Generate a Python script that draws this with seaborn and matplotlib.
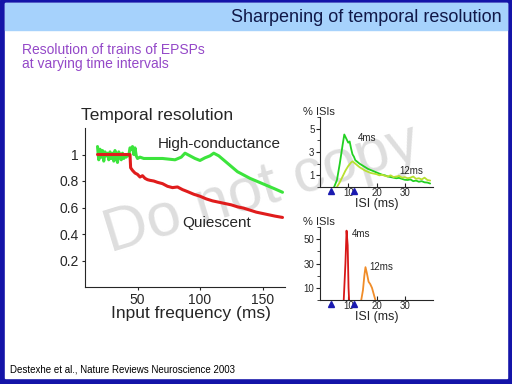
# recreate slide: Sharpening of temporal resolution

# import libraries
import pandas as pd
import seaborn as sns
import matplotlib.pyplot as plt
from matplotlib.patches import Rectangle
from matplotlib.ticker import MultipleLocator

# main panel: temporal resolution vs input frequency
hc_x = [18, 19, 20, 21, 22, 23, 24, 25, 26, 27, 28, 29, 30, 31, 32, 33, 34, 35, 36, 37,
        38, 39, 40, 41, 42, 43, 44, 45, 46, 47, 48, 49, 50, 52, 55, 60, 65, 70, 75, 80,
        85, 88, 92, 96, 100, 104, 108, 111, 115, 120, 125, 130, 135, 140, 145, 150, 155, 160, 166]
hc_y = [1.06, 0.96, 1.04, 0.98, 1.03, 0.95, 1.02, 0.99, 1.01, 0.96, 1.02, 0.97, 1.01, 0.95, 1.03, 0.98,
        0.94, 1.02, 0.99, 0.96, 1.01, 0.97, 1.00, 0.98, 1.00, 0.99, 1.05, 1.04, 1.06, 1.00, 1.05, 0.99,
        0.97, 0.98, 0.97, 0.97, 0.97, 0.97, 0.965, 0.96, 0.98, 1.01, 0.99, 0.97, 0.955, 0.975, 0.99, 1.01,
        0.99, 0.95, 0.91, 0.87, 0.845, 0.82, 0.80, 0.78, 0.76, 0.74, 0.715]
q_x = [18, 20, 25, 30, 35, 40, 44, 44.5, 46, 48, 50, 52, 54, 56, 58, 60, 63, 66, 70, 74,
       78, 82, 86, 90, 95, 100, 105, 110, 115, 120, 125, 130, 135, 140, 145, 150, 155, 160, 166]
q_y = [1.0, 1.0, 1.0, 1.0, 1.0, 1.0, 1.0, 0.90, 0.88, 0.86, 0.85, 0.83, 0.84, 0.82, 0.81, 0.805,
       0.80, 0.79, 0.78, 0.76, 0.75, 0.755, 0.735, 0.72, 0.70, 0.685, 0.665, 0.65, 0.64, 0.63,
       0.62, 0.605, 0.595, 0.58, 0.565, 0.555, 0.545, 0.535, 0.525]

# top histogram (high-conductance), ISI in ms, % ISIs
g4_x = [5, 6, 7, 8, 8.6, 9.2, 10, 10.5, 11, 11.5, 12, 12.5, 13, 14, 15, 16, 17, 18, 19, 20,
        21, 22, 23, 24, 25, 26, 27, 28, 29, 30, 31, 32, 33, 34, 35, 36, 37, 38, 39]
g4_y = [0, 0.6, 2.0, 3.6, 4.5, 4.2, 3.8, 3.9, 3.3, 2.8, 2.6, 2.3, 2.2, 2.0, 1.85, 1.7, 1.55, 1.45,
        1.35, 1.25, 1.15, 1.05, 1.0, 0.9, 0.85, 0.8, 0.75, 0.78, 0.7, 0.62, 0.6, 0.65, 0.5, 0.55,
        0.45, 0.5, 0.4, 0.38, 0.3]
y12_x = [6, 7, 8, 9, 10, 11, 11.5, 12, 13, 14, 15, 16, 17, 18, 19, 20, 21, 22, 23, 24, 25,
         26, 27, 28, 29, 30, 31, 32, 33, 34, 35, 36, 37, 38, 39]
y12_y = [0, 0.4, 0.9, 1.4, 1.8, 2.1, 2.2, 2.1, 1.9, 1.7, 1.55, 1.4, 1.3, 1.2, 1.15, 1.1, 1.0,
         1.05, 0.95, 0.9, 1.0, 0.85, 0.9, 0.95, 0.8, 0.85, 0.75, 0.8, 0.9, 0.7, 0.75, 0.65, 0.8,
         0.6, 0.55]

# bottom histogram (quiescent)
r4_x = [8.4, 9.0, 9.4, 9.8, 10.1, 10.3]
r4_y = [0, 30, 57, 45, 10, 0]
o12_x = [14.6, 15.2, 15.7, 16.1, 16.6, 17.2, 17.8, 18.4, 19.0, 19.6]
o12_y = [0, 8, 20, 27, 22, 15, 13, 10, 5, 0]

# stimulus intervals (blue triangles)
tri_x = [4, 12]

main_df = pd.concat([pd.DataFrame({'freq': hc_x, 'res': hc_y, 'state': 'High-conductance'}),
                     pd.DataFrame({'freq': q_x, 'res': q_y, 'state': 'Quiescent'})])
top_df = pd.concat([pd.DataFrame({'isi': g4_x, 'pct': g4_y, 'interval': '4ms'}),
                    pd.DataFrame({'isi': y12_x, 'pct': y12_y, 'interval': '12ms'})])
bot_df = pd.concat([pd.DataFrame({'isi': r4_x, 'pct': r4_y, 'interval': '4ms'}),
                    pd.DataFrame({'isi': o12_x, 'pct': o12_y, 'interval': '12ms'})])

sns.set_style('ticks')
plt.rcParams['font.family'] = ['Liberation Sans', 'DejaVu Sans']

W, H = 512, 384
fig = plt.figure(figsize=(W / 100, H / 100), dpi=100)


def box(l, t, r, b):
    # pixel box -> figure fractions
    return [l / W, 1 - b / H, (r - l) / W, (b - t) / H]


# slide background
bg = fig.add_axes([0, 0, 1, 1])
bg.set_xlim(0, W)
bg.set_ylim(H, 0)
bg.axis('off')
bg.add_patch(Rectangle((0, 0), W, H, color='#1414a8'))
bg.add_patch(Rectangle((5, 3), W - 10, H - 9, color='white'))
bg.add_patch(Rectangle((5, 3), W - 10, 27, color='#a6d2fc'))
bg.text(502, 17, 'Sharpening of temporal resolution', ha='right', va='center',
        fontsize=13, color='#101848')
bg.text(22, 50, 'Resolution of trains of EPSPs', fontsize=10, color='#9448c8', va='center')
bg.text(22, 64, 'at varying time intervals', fontsize=10, color='#9448c8', va='center')
bg.text(10, 369, 'Destexhe et al., Nature Reviews Neuroscience 2003', fontsize=7,
        color='black', va='center')


def small_axes(a):
    # shared look of the two ISI histograms
    a.set_facecolor('none')
    a.set_xlim(0, 40)
    a.set_xticks([10, 20, 30])
    a.tick_params(axis='y', labelsize=7, length=3, pad=1)
    a.tick_params(axis='y', which='minor', length=2)
    a.tick_params(axis='x', labelsize=7, length=3, pad=1, direction='in')
    a.set_xlabel('ISI (ms)', fontsize=9, labelpad=0)
    a.set_ylabel('')
    a.text(-0.15, 1.03, '% ISIs', fontsize=8, transform=a.transAxes)
    a.plot(tri_x, [-0.05] * len(tri_x), '^', color='#1a1ab0', markersize=5,
           transform=a.get_xaxis_transform(), clip_on=False)
    sns.despine(ax=a)


# main panel
ax = fig.add_axes(box(85, 128, 285, 287))
ax.set_facecolor('none')
sns.lineplot(data=main_df, x='freq', y='res', hue='state', ax=ax, legend=False,
             palette={'High-conductance': '#3ce43c', 'Quiescent': '#e01c1c'}, linewidth=2.2)
ax.set_xlim(8, 168)
ax.set_ylim(0, 1.2)
ax.set_xticks([50, 100, 150])
ax.set_yticks([0.2, 0.4, 0.6, 0.8, 1])
ax.set_yticklabels(['0.2', '0.4', '0.6', '0.8', '1'])
ax.tick_params(labelsize=10, length=2.5)
ax.tick_params(axis='x', pad=1.5)
ax.tick_params(axis='y', pad=2)
ax.set_xlabel('Input frequency (ms)', fontsize=12.5)
ax.xaxis.set_label_coords(0.53, -0.12)
ax.xaxis.label.set_va('top')
ax.set_ylabel('')
ax.set_title('Temporal resolution', fontsize=12.5, loc='left', x=-0.02, pad=6)
ax.text(66, 1.08, 'High-conductance', fontsize=11, va='center')
ax.text(86, 0.48, 'Quiescent', fontsize=11, va='center')
sns.despine(ax=ax)

# top-right histogram
ax1 = fig.add_axes(box(320, 117, 433, 187))
sns.lineplot(data=top_df, x='isi', y='pct', hue='interval', ax=ax1, legend=False,
             palette={'4ms': '#22d022', '12ms': '#b8e030'}, linewidth=1.3)
ax1.set_ylim(0, 6)
ax1.set_yticks([1, 3, 5])
ax1.yaxis.set_minor_locator(MultipleLocator(1))
small_axes(ax1)
ax1.text(13.5, 4.2, '4ms', fontsize=7, va='center')
ax1.text(28, 1.4, '12ms', fontsize=7, va='center')

# bottom-right histogram
ax2 = fig.add_axes(box(320, 227, 433, 300))
sns.lineplot(data=bot_df, x='isi', y='pct', hue='interval', ax=ax2, legend=False,
             palette={'4ms': '#d81818', '12ms': '#f08c28'}, linewidth=1.3)
ax2.set_ylim(0, 60)
ax2.set_yticks([10, 30, 50])
ax2.yaxis.set_minor_locator(MultipleLocator(10))
small_axes(ax2)
ax2.text(11.3, 54, '4ms', fontsize=7, va='center')
ax2.text(17.6, 27, '12ms', fontsize=7, va='center')

# watermark
bg.text(262, 190, 'Do not copy', fontsize=44, rotation=17, color='#c8c8c8', alpha=0.6,
        ha='center', va='center', zorder=10)

fig.savefig('out.png', dpi=100)
